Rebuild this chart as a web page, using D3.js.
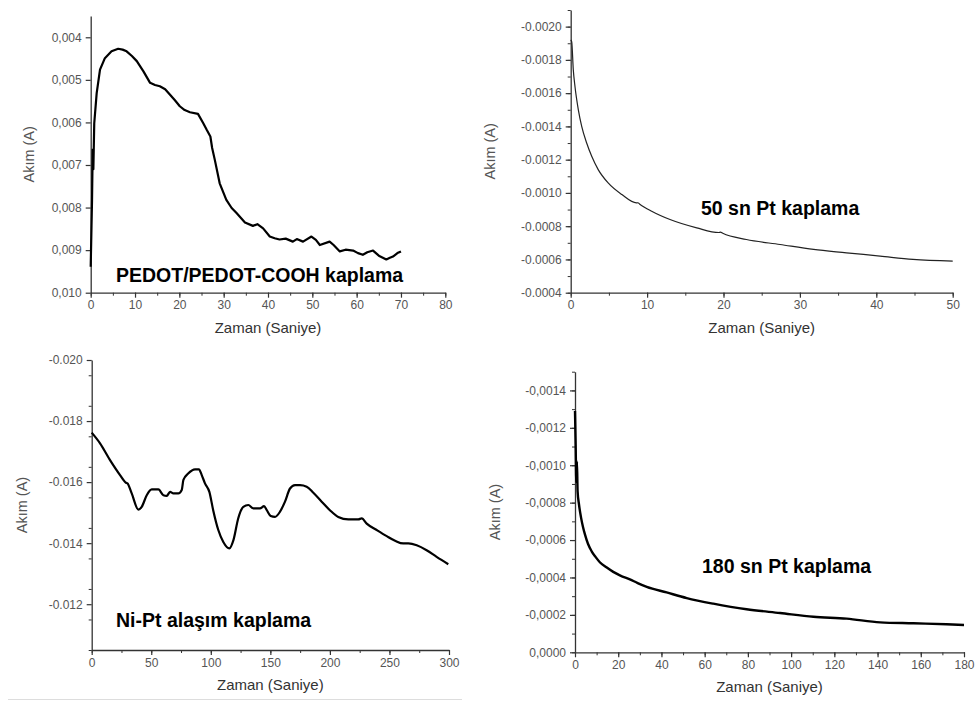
<!DOCTYPE html>
<html>
<head>
<meta charset="utf-8">
<script src="https://cdn.jsdelivr.net/npm/d3@7"></script>
<style>
  body { margin: 0; background: #fff; }
  text { font-family: "Liberation Sans", Arial, sans-serif; }
</style>
</head>
<body>
<div id="chart"></div>
<script>
// [time (s), current (A)]
const pedotData = [[0,0.00939],[0.3,0.00782],[0.45,0.00664],[0.6,0.0071],[0.8,0.00602],[1.35,0.00531],[2.1,0.00476],[3.2,0.00449],[4.7,0.00433],[6.2,0.00427],[7.2,0.00429],[8.1,0.00433],[9.3,0.00444],[10.4,0.00456],[11.9,0.0048],[13.4,0.00507],[14.5,0.00512],[15.6,0.00515],[16.8,0.00522],[17.9,0.00535],[19,0.00548],[20.1,0.00562],[21.2,0.00571],[22.4,0.00576],[24.2,0.0058],[25.4,0.00602],[26.2,0.00618],[27,0.00633],[27.4,0.0066],[28,0.00688],[29.1,0.00743],[30.6,0.00782],[31.8,0.00801],[32.9,0.00813],[34.8,0.00835],[36.6,0.00843],[37.6,0.00839],[38.9,0.00849],[40.4,0.00868],[41.5,0.00872],[42.6,0.00875],[44,0.00873],[45.6,0.0088],[46.5,0.00874],[47.9,0.0088],[49.8,0.00868],[50.8,0.00876],[51.7,0.00888],[53.9,0.0088],[54.8,0.00888],[56.2,0.00903],[57.5,0.00899],[59.2,0.00901],[60.3,0.00907],[61.4,0.00911],[62.4,0.00905],[63.7,0.00901],[65,0.00913],[66.7,0.00922],[67.5,0.00918],[68.2,0.00915],[69.2,0.00907],[70,0.00903]];

const pt50Data = [[0,-0.00192],[0.13,-0.00191],[0.34,-0.00174],[0.56,-0.00164],[1.0,-0.0015],[1.44,-0.0014],[2.09,-0.0013],[2.75,-0.00122],[3.6,-0.00114],[4.9,-0.00106],[6.7,-0.00099],[8.6,-0.00094],[8.8,-0.000941],[9.0,-0.000934],[10.6,-0.00089],[13,-0.00084],[16.5,-0.00079],[19.4,-0.000762],[19.6,-0.000764],[19.9,-0.000757],[23,-0.00072],[27.4,-0.00069],[31.8,-0.00066],[36.1,-0.00064],[40.5,-0.00062],[44.8,-0.0006],[50,-0.00059]];

const niptData = [[0,-0.01762],[7,-0.01727],[15.4,-0.01672],[23.8,-0.01623],[28.8,-0.01598],[30,-0.01596],[33.6,-0.01563],[39.2,-0.0151],[42,-0.01519],[46.2,-0.01557],[50.4,-0.01576],[56,-0.01576],[60.2,-0.01557],[63,-0.01555],[65.8,-0.01568],[68.6,-0.01563],[72.8,-0.01563],[75.6,-0.01574],[77,-0.01607],[81,-0.01628],[86.8,-0.01642],[90,-0.01642],[92.4,-0.01623],[95.1,-0.01596],[98.8,-0.01568],[102,-0.01508],[106.3,-0.01443],[110.5,-0.01404],[115.6,-0.01383],[119,-0.0141],[123,-0.01481],[127.3,-0.01519],[131.5,-0.01525],[135.7,-0.01514],[141.3,-0.01514],[144.7,-0.01521],[147,-0.01508],[150.3,-0.01489],[153.9,-0.01486],[158.1,-0.01503],[162.3,-0.01536],[166.5,-0.01579],[170.7,-0.0159],[174.9,-0.0159],[180.5,-0.01585],[186.1,-0.01565],[193.1,-0.01536],[200,-0.01508],[207,-0.01486],[215.5,-0.01478],[223.9,-0.01478],[226.7,-0.01481],[230.9,-0.01464],[239.3,-0.01443],[247.7,-0.01423],[254.7,-0.01408],[261.6,-0.01399],[265.9,-0.01399],[272.9,-0.01393],[281.2,-0.01377],[289.6,-0.01355],[299.4,-0.01331]];

const pt180Data = [[0,-0.00129],[0.3,-0.00111],[0.6,-0.00091],[0.9,-0.00102],[1.2,-0.00086],[1.85,-0.00079],[2.8,-0.00072],[3.7,-0.00067],[4.6,-0.00063],[6,-0.00058],[7.7,-0.00054],[9.5,-0.00051],[11.6,-0.00048],[14.5,-0.000455],[17.7,-0.00043],[21,-0.00041],[25.4,-0.00039],[29,-0.00037],[33.2,-0.00035],[42.4,-0.00032],[51.7,-0.00029],[64,-0.00026],[79.4,-0.00023],[94.9,-0.00021],[110.3,-0.00019],[125.7,-0.00018],[141.2,-0.00016],[156.6,-0.000155],[171.9,-0.00015],[180,-0.000146]];

// tick values
const pedotXTicks = [0, 10, 20, 30, 40, 50, 60, 70, 80];
const pedotYTicks = [0.004, 0.005, 0.006, 0.007, 0.008, 0.009, 0.010];
const pt50XTicks = [0, 10, 20, 30, 40, 50];
const pt50YTicks = [-0.0020, -0.0018, -0.0016, -0.0014, -0.0012, -0.0010, -0.0008, -0.0006, -0.0004];
const niptXTicks = [0, 50, 100, 150, 200, 250, 300];
const niptYTicks = [-0.020, -0.018, -0.016, -0.014, -0.012];
const pt180XTicks = [0, 20, 40, 60, 80, 100, 120, 140, 160, 180];
const pt180YTicks = [-0.0014, -0.0012, -0.0010, -0.0008, -0.0006, -0.0004, -0.0002, 0];

const labels = ["PEDOT/PEDOT-COOH kaplama", "50 sn Pt kaplama", "Ni-Pt alaşım kaplama", "180 sn Pt kaplama"];

const width = 975;
const height = 702;
const svg = d3.select("#chart")
    .append("svg")
    .attr("width", width)
    .attr("height", height);

// plain hyphen minus, optional comma decimal
const fmt = (digits, comma) => d => {
    let s = (d < 0 ? "-" : "") + Math.abs(d).toFixed(digits);
    return comma ? s.replace(".", ",") : s;
};

const panels = [
    {data: pedotData, xTicks: pedotXTicks, yTicks: pedotYTicks, xDom: [0, 80], yDom: [0.010, 0.0035],
     xMinorStep: 5, yMinorStep: 0.0005, l: 90.7, r: 445.3, t: 16, b: 292.7, yFmt: fmt(3, true),
     label: labels[0], lx: 116, ly: 282, lw: 2.2, yTitleX: 29, curve: d3.curveLinear},
    {data: pt50Data, xTicks: pt50XTicks, yTicks: pt50YTicks, xDom: [0, 50], yDom: [-0.0004, -0.0021],
     xMinorStep: 5, yMinorStep: -0.0001, l: 570.7, r: 952.7, t: 10, b: 292.7, yFmt: fmt(4, false),
     label: labels[1], lx: 701, ly: 215, lw: 1.2, yTitleX: 490, curve: d3.curveMonotoneX},
    {data: niptData, xTicks: niptXTicks, yTicks: niptYTicks, xDom: [0, 300], yDom: [-0.0105, -0.020],
     xMinorStep: 25, yMinorStep: -0.001, l: 91.7, r: 449, t: 360, b: 650, yFmt: fmt(3, false),
     label: labels[2], lx: 116, ly: 627, lw: 2.2, yTitleX: 22, curve: d3.curveMonotoneX},
    {data: pt180Data, xTicks: pt180XTicks, yTicks: pt180YTicks, xDom: [0, 180], yDom: [0, -0.0015],
     xMinorStep: 10, yMinorStep: -0.0001, l: 575, r: 964, t: 371.7, b: 652.3, yFmt: fmt(4, true),
     label: labels[3], lx: 702, ly: 573, lw: 2.4, yTitleX: 495, curve: d3.curveMonotoneX}
];

panels.forEach(p => {
    const xScale = d3.scaleLinear().domain(p.xDom).range([p.l, p.r]);
    const yScale = d3.scaleLinear().domain(p.yDom).range([p.b, p.t]);

    const xMinor = d3.range(p.xDom[0], p.xDom[1] + 1e-9, p.xMinorStep);
    const yMinor = d3.range(p.yDom[0], p.yDom[1] + p.yMinorStep * 0.01, p.yMinorStep)
        .filter(v => Math.abs(v) <= Math.max(Math.abs(p.yDom[0]), Math.abs(p.yDom[1])) + 1e-12);

    // minor ticks
    svg.append("g")
        .attr("transform", `translate(0, ${p.b})`)
        .call(d3.axisBottom(xScale).tickValues(xMinor).tickFormat("").tickSize(3).tickSizeOuter(0))
        .call(g => g.select(".domain").remove())
        .selectAll("line").attr("stroke", "#333");
    svg.append("g")
        .attr("transform", `translate(${p.l}, 0)`)
        .call(d3.axisLeft(yScale).tickValues(yMinor).tickFormat("").tickSize(3).tickSizeOuter(0))
        .call(g => g.select(".domain").remove())
        .selectAll("line").attr("stroke", "#333");

    // X axis
    const xAxis = svg.append("g")
        .attr("transform", `translate(0, ${p.b})`)
        .call(d3.axisBottom(xScale).tickValues(p.xTicks).tickSize(5).tickPadding(3).tickSizeOuter(0));
    // Y axis
    const yAxis = svg.append("g")
        .attr("transform", `translate(${p.l}, 0)`)
        .call(d3.axisLeft(yScale).tickValues(p.yTicks).tickFormat(p.yFmt).tickSize(5).tickPadding(4).tickSizeOuter(0));

    [xAxis, yAxis].forEach(g => {
        g.select(".domain").attr("stroke", "#333").attr("stroke-width", 1.3);
        g.selectAll(".tick line").attr("stroke", "#333").attr("stroke-width", 1.2);
        g.selectAll(".tick text")
            .attr("fill", "#555")
            .attr("font-size", "12px")
            .style("font-family", "'Liberation Sans', Arial, sans-serif");
    });

    // curve
    const line = d3.line()
        .curve(p.curve)
        .x(d => xScale(d[0]))
        .y(d => yScale(d[1]));
    svg.append("path")
        .datum(p.data)
        .attr("d", line)
        .attr("fill", "none")
        .attr("stroke", p.lw < 2 ? "#222" : "#000")
        .attr("stroke-width", p.lw)
        .attr("stroke-linejoin", "round");

    // axis titles
    svg.append("text")
        .attr("x", (p.l + p.r) / 2)
        .attr("y", p.b + 40)
        .attr("text-anchor", "middle")
        .attr("font-size", "15px")
        .attr("fill", "#333")
        .text("Zaman (Saniye)");
    svg.append("text")
        .attr("transform", `translate(${p.yTitleX + 5}, ${(p.t + p.b) / 2}) rotate(-90)`)
        .attr("text-anchor", "middle")
        .attr("font-size", "14.5px")
        .attr("fill", "#555")
        .text("Akım (A)");

    // annotation
    svg.append("text")
        .attr("x", p.lx)
        .attr("y", p.ly)
        .attr("font-size", "19.5px")
        .attr("font-weight", "bold")
        .attr("fill", "#000")
        .text(p.label);
});

// faint separator under the lower-left plot
svg.append("line")
    .attr("x1", 8).attr("x2", 462)
    .attr("y1", 699.5).attr("y2", 699.5)
    .attr("stroke", "#ddd")
    .attr("stroke-width", 1);
</script>
</body>
</html>
